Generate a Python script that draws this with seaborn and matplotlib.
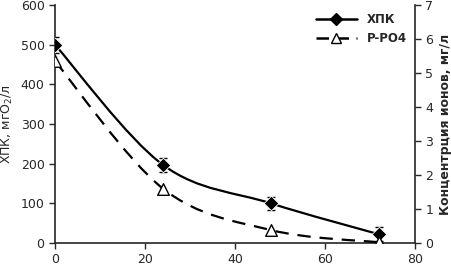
import numpy as np
import matplotlib
matplotlib.use("Agg")
import matplotlib.pyplot as plt
import seaborn as sns
from matplotlib.path import Path
from matplotlib.patches import PathPatch

# data
hours = [0, 24, 48, 72]
cod = [500, 197, 100, 22]          # ХПК, mgO2/l
cod_err = [20, 18, 17, 18]
po4 = [5.35, 1.6, 0.38, 0.02]      # P-PO4, mg/l

sns.set_style("ticks")
plt.rcParams['font.family'] = ['DejaVu Sans']


def smooth_path(x, y):
    # Catmull-Rom style bezier through the points (like Excel smoothed line)
    x = np.asarray(x, float)
    y = np.asarray(y, float)
    verts = [(x[0], y[0])]
    codes = [Path.MOVETO]
    n = len(x)
    for i in range(n - 1):
        p0 = np.array([x[max(i - 1, 0)], y[max(i - 1, 0)]])
        p1 = np.array([x[i], y[i]])
        p2 = np.array([x[i + 1], y[i + 1]])
        p3 = np.array([x[min(i + 2, n - 1)], y[min(i + 2, n - 1)]])
        c1 = p1 + (p2 - p0) / 6
        c2 = p2 - (p3 - p1) / 6
        verts += [tuple(c1), tuple(c2), tuple(p2)]
        codes += [Path.CURVE4] * 3
    return Path(verts, codes)


fig = plt.figure(figsize=(4.51, 2.70), dpi=100)
ax = fig.add_axes([0.122, 0.1, 0.798, 0.881])
ax2 = ax.twinx()

ax.add_patch(PathPatch(smooth_path(hours, cod), fill=False, lw=1.6, color='black'))
ax.errorbar(hours, cod, yerr=cod_err, fmt='none', ecolor='black', elinewidth=1, capsize=3)
sns.scatterplot(x=hours, y=cod, marker='D', s=55, color='black', ax=ax, zorder=5)

ax2.add_patch(PathPatch(smooth_path(hours, po4), fill=False, lw=1.6, color='black',
                        linestyle=(0, (6, 4))))
sns.scatterplot(x=hours, y=po4, marker='^', s=70, facecolor='white', edgecolor='black',
                linewidth=1, ax=ax2, zorder=5)

ax.set_xlim(0, 80)
ax.set_ylim(0, 600)
ax2.set_ylim(0, 7)
ax.set_xticks([0, 20, 40, 60, 80])
ax.set_yticks(range(0, 601, 100))
ax2.set_yticks(range(0, 8))

for a in (ax, ax2):
    a.tick_params(labelsize=9, length=4, width=1, direction='out')
    for s in a.spines.values():
        s.set_linewidth(1.2)
    a.spines['top'].set_visible(False)
ax.spines['right'].set_visible(False)
ax2.spines['left'].set_visible(False)
ax2.spines['bottom'].set_visible(False)

ax.set_ylabel('ХПК, мгО$_2$/л', fontsize=9)
ax2.set_ylabel('Концентрция ионов, мг/л', fontsize=9, fontweight='bold')

from matplotlib.lines import Line2D
handles = [
    Line2D([], [], color='black', lw=1.8, marker='D', markersize=6),
    Line2D([], [], color='black', lw=1.8, linestyle=(0, (5, 3)), marker='^',
           markersize=7, markerfacecolor='white'),
]
ax.legend(handles, ['ХПК', 'P-PO4'], loc='upper right', frameon=False, fontsize=8.5,
          handlelength=3.5, borderaxespad=0.3, prop={'weight': 'bold', 'size': 8.5})

fig.savefig('out.png', dpi=100)
